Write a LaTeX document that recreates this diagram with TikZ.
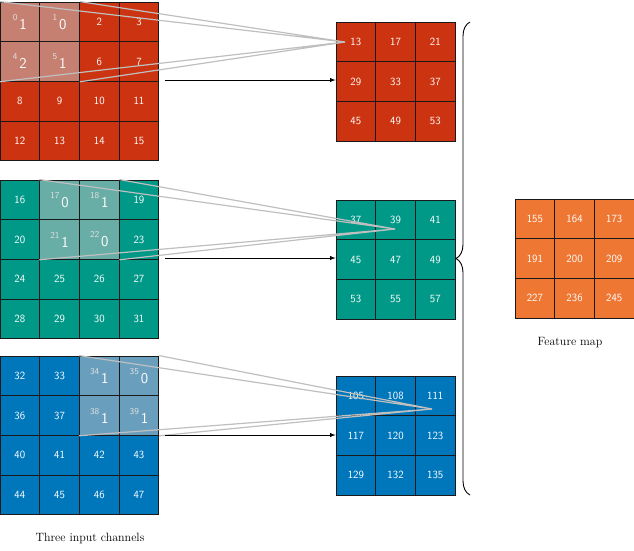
\documentclass[tikz,border=0pt]{standalone}
\usetikzlibrary{decorations.pathreplacing}

\definecolor{chred}{HTML}{CC3311}
\definecolor{chteal}{HTML}{009988}
\definecolor{chblue}{HTML}{0077BB}
\definecolor{chorange}{HTML}{EE7733}

\tikzset{
    cell/.style = {draw = black!90, line width = 0.8pt, minimum size = 39.7pt,
        inner sep = 0, text = white, font = \sffamily\fontsize{11}{13}\selectfont},
    patchline/.style = {draw = black!25, line width = 1.2pt},
    feed/.style = {-latex, line width = 0.9pt}
}

% name, x, y, colour, first value, column step, row step, last index
\newcommand\fmgrid[8]{%
    \foreach \r in {0,...,#8}
        \foreach \c in {0,...,#8}{
            \pgfmathtruncatemacro\v{#5+\c*#6+\r*#7}
            \node[cell, fill = #4] (#1-\r-\c) at ({#2+19.85+\c*39.7},{#3+19.85+\r*39.7}) {\v};
        }%
}
% grid node, colour, value, weight
\newcommand\fmpatch[4]{%
    \node[cell, fill = #2!45!lightgray] at (#1) {\raisebox{6pt}{\fontsize{9}{9}\selectfont\color{white!75!gray}#3}\,\raisebox{-3pt}{\fontsize{15}{15}\selectfont #4}};
}

\begin{document}
\begin{tikzpicture}[x = 1pt, y = -1pt]
\useasboundingbox (0,0) rectangle (634,550);

% input channels
\fmgrid{inA}{0}{2}{chred}{0}{1}{4}{3}
\fmgrid{inB}{0}{180}{chteal}{16}{1}{4}{3}
\fmgrid{inC}{0}{356}{chblue}{32}{1}{4}{3}

% output channels
\fmgrid{outA}{336}{22}{chred}{13}{4}{16}{2}
\fmgrid{outB}{336}{200}{chteal}{37}{2}{8}{2}
\fmgrid{outC}{336}{376}{chblue}{105}{3}{12}{2}

% feature map
\fmgrid{feat}{515}{199}{chorange}{155}{9}{36}{2}

% kernels
\fmpatch{inA-0-0}{chred}{0}{1}
\fmpatch{inA-0-1}{chred}{1}{0}
\fmpatch{inA-1-0}{chred}{4}{2}
\fmpatch{inA-1-1}{chred}{5}{1}
\fmpatch{inB-0-1}{chteal}{17}{0}
\fmpatch{inB-0-2}{chteal}{18}{1}
\fmpatch{inB-1-1}{chteal}{21}{1}
\fmpatch{inB-1-2}{chteal}{22}{0}
\fmpatch{inC-0-2}{chblue}{34}{1}
\fmpatch{inC-0-3}{chblue}{35}{0}
\fmpatch{inC-1-2}{chblue}{38}{1}
\fmpatch{inC-1-3}{chblue}{39}{1}

% receptive field lines
\coordinate (tipA) at (345,42);
\coordinate (tipB) at (395,229);
\coordinate (tipC) at (432,409);
\draw[patchline] (inA-0-0.north west) -- (tipA) -- (inA-0-1.north east);
\draw[patchline] (inA-1-0.south west) -- (tipA) -- (inA-1-1.south east);
\draw[patchline] (inB-0-1.north west) -- (tipB) -- (inB-0-2.north east);
\draw[patchline] (inB-1-1.south west) -- (tipB) -- (inB-1-2.south east);
\draw[patchline] (inC-0-2.north west) -- (tipC) -- (inC-0-3.north east);
\draw[patchline] (inC-1-2.south west) -- (tipC) -- (inC-1-3.south east);

% arrows
\coordinate (srcA) at (165,80);
\coordinate (srcB) at (165,258);
\coordinate (srcC) at (165,435);
\draw[feed] (srcA) -- (srcA -| outA-1-0.west);
\draw[feed] (srcB) -- (srcB -| outB-1-0.west);
\draw[feed] (srcC) -- (srcC -| outC-1-0.west);

% sum
\draw[line width = 0.9pt, decoration = {brace, mirror, amplitude = 14pt}, decorate]
    (470,22) -- (470,495);

\node[font = \fontsize{12}{14}\selectfont] (featlabel) at (570,343) {Feature map};
\node[font = \fontsize{12}{14}\selectfont] (inlabel) at (90,538) {Three input channels};
\end{tikzpicture}
\end{document}
